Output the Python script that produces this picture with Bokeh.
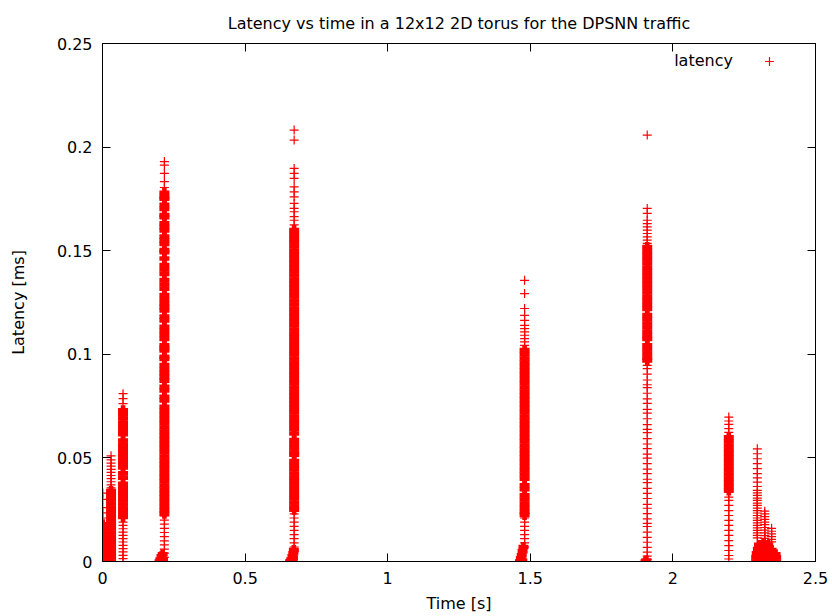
from bokeh.plotting import figure
from bokeh.models import (Range1d, LinearAxis, FixedTicker, NumeralTickFormatter,
                          CustomJSTickFormatter, Legend, LegendItem, Label)
from bokeh.embed import file_html
from bokeh.resources import INLINE

# ---- data: burst times (ms) and latencies (microseconds) ----
c1_t = 1
c1_dense = [0, 2, 4, 6, 8, 10, 12, 14, 16, 18]
c1_sparse = [21, 23.5, 26, 30, 33]

c2_t = 30
c2_dense = [0, 2, 4, 6, 8, 10, 12, 14, 16, 18, 20, 22, 24, 26, 28, 30, 32, 34]
c2_sparse = [35.5, 37, 38.5, 40, 41.5, 43, 44.5, 46, 47.5, 49, 51]

c3_t = 72
c3_dense = [73, 71, 69, 67, 65, 63, 61.4, 58.4, 56.4, 54.4, 52.4, 50.4, 48.4, 46.4,
            45.4, 42.6, 40.5, 37.5, 35.5, 33.5, 31.5, 29.5, 27.5, 25.5, 23.5, 21.5]
c3_sparse = [81, 78.6, 76.2, 19, 17.4, 15.8, 14.2, 12.6, 11, 9.4, 7.8, 6.2, 4.6, 3, 1.4, 0]

c4_t = 217
c4_dense = [178, 176, 175.1, 172.1, 170.2, 167.2, 166.2, 163.2, 161.5, 159.8, 156.8, 155,
            153.3, 150.3, 149.3, 146.2, 143.1, 141, 138.8, 135.8, 133.7, 131.6, 128.6,
            126.6, 124.6, 122.9, 121.2, 118.2, 116.3, 113.3, 111.3, 109.3, 107.4, 104.4,
            103.1, 101.8, 98.8, 97.8, 94.8, 92.8, 90.9, 89.1, 87.3, 84.3, 82.5, 79.5, 77.7,
            74.7, 72.7, 70.7, 68.7, 66.7, 64.7, 62.7, 60.7, 58.7, 56.7, 54.7, 52.7, 50.7,
            48.7, 46.7, 44.7, 42.7, 40.7, 38.7, 36.7, 34.7, 32.7, 30.7, 28.7, 26.7, 24.7, 23]
c4_sparse = [193, 191.3, 187.3, 183.3, 180.5, 22, 20, 18, 16, 14, 12, 10, 8, 6, 4, 2]
c4_foot_t = [203, 207, 211, 200, 206, 212, 209]
c4_foot_lat = [1, 2.5, 3.5, 0, 0.5, 1, 0]

c5_t = 672
c5_dense = [160, 158, 156, 154, 152, 150, 148, 146, 144, 142, 140, 138, 136, 134, 132, 130,
            128, 126, 124, 122, 120, 118, 116, 114, 112, 110, 108, 106, 104, 102, 100, 98,
            96, 94, 92, 90, 88, 86, 84, 82, 80, 78, 76, 74, 72, 70, 68, 66, 64, 61.8, 58.6,
            56.6, 54.6, 52.6, 51.5, 48.5, 46.5, 44.5, 42.5, 40.5, 38.5, 36.5, 34.5, 32.5,
            30.5, 28.5, 26.5, 25]
c5_sparse = [208.2, 203.4, 189.7, 187.3, 184.9, 180.8, 178.4, 176, 172.8, 170.4, 168.8,
             166.4, 164.7, 162.5, 23, 21, 19, 17, 15, 13, 11, 9, 7]
c5_foot_t = [658, 662, 666, 669, 660, 664, 668, 671]
c5_foot_lat = [0, 1, 2.5, 4, 0, 0.5, 1.5, 5.5]

c6_t = 1480
c6_dense = [102, 100, 98, 96, 94, 92, 90, 88, 86, 84, 82, 80, 78, 76, 74, 72, 70, 68, 66,
            64, 62, 60, 58, 56, 54, 52, 50, 48, 46, 44, 42, 40, 36.8, 34.9, 31.9, 29.9,
            27.9, 25.9, 23.9, 22.5]
c6_sparse = [135.7, 129.3, 122.1, 118.8, 116.4, 114, 112.4, 110.8, 109.2, 107.6, 106,
             104.3, 21, 19, 17, 15, 13, 11, 9, 7]
c6_foot_t = [1464, 1467, 1470, 1473, 1476, 1466, 1472]
c6_foot_lat = [0, 1.5, 3, 5, 7, 0, 0.5]

c7_t = 1910
c7_dense = [151.8, 149.8, 147.8, 145.8, 143.8, 141.8, 139.8, 137.8, 135.8, 133.8, 131.8,
            129.8, 127.8, 125.8, 123.8, 121.9, 118.9, 116.9, 114.9, 112.9, 110.9, 108.9,
            107.4, 104.4, 102.4, 100.4, 98.4, 97]
c7_sparse = [205.8, 170.4, 168, 164.7, 163.1, 161.5, 159.9, 158.3, 156.7, 155.1, 153.5,
             94.7, 93.1, 90.4, 87.6, 85.3, 83.9, 81.2, 78.5, 76.3, 73.4, 71.6, 68.9, 66.1,
             63.8, 62.2, 59.3, 56.7, 54.5, 51.8, 49.9, 47.2, 44.6, 42.4, 39.7, 38.1, 35.3,
             32.9, 30.4, 27.6, 25.7, 23.1, 20.6, 18.4, 16.9, 14.2, 11.6, 9.3, 6.8, 4.5,
             2.6, 1]
c7_foot_t = [1904, 1907]
c7_foot_lat = [0, 0.5]

c8_t = 2196
c8_dense = [60, 58, 56, 54, 52, 50, 48, 46, 44, 42, 40, 38, 36, 34.3]
c8_sparse = [69.7, 67.8, 66.2, 64.1, 62.3, 33.5, 31.1, 29.5, 27.1, 24.6, 22.2, 19.8, 17.4,
             15, 12.6, 10.1, 7.7, 5.3, 2.9, 1.2]

c9_t = 2296
c9_sparse = [54.4, 52, 49.6, 47.2, 44.8, 42.4, 40.4, 38.3, 36.2, 34.3, 33.1, 31.9, 30.6,
             29.5, 28.2, 27.1, 25.8, 24.6, 23.4, 22.2, 21, 19.8, 18.6, 17.4, 16.2, 15,
             13.8, 12.6, 11.4]

c10_t = 2322
c10_sparse = [24.3, 23, 21.7, 20.3, 19, 17.8, 16.4, 15.1, 13.8, 12.5, 11.2, 10]

c11_t = 2346
c11_sparse = [16, 14.6, 13.3, 12, 10.7, 9.5]

blob_t = [2292, 2310, 2328, 2346, 2362, 2292, 2310, 2328, 2346, 2362, 2294, 2312, 2330,
          2348, 2360, 2298, 2314, 2330, 2346, 2302, 2318, 2334]
blob_lat = [0, 0, 0, 0, 0, 2, 2, 2, 2, 2, 4, 4, 4, 4, 3.5, 6, 6, 6, 5.5, 8, 8.5, 8]

x_ticks = [0, 0.5, 1, 1.5, 2, 2.5]
y_ticks = [0, 0.05, 0.1, 0.15, 0.2, 0.25]
title_text = "Latency vs time in a 12x12 2D torus for the DPSNN traffic"

# ---- assemble (ms -> s, us -> ms) ----
dense_x, dense_y, sparse_x, sparse_y = [], [], [], []


def add(t_ms, lats, xs, ys):
    for v in lats:
        xs.append(t_ms / 1000.0)
        ys.append(v / 1000.0)


for t, d, s in [(c1_t, c1_dense, c1_sparse), (c2_t, c2_dense, c2_sparse),
                (c3_t, c3_dense, c3_sparse), (c4_t, c4_dense, c4_sparse),
                (c5_t, c5_dense, c5_sparse), (c6_t, c6_dense, c6_sparse),
                (c7_t, c7_dense, c7_sparse), (c8_t, c8_dense, c8_sparse),
                (c9_t, [], c9_sparse), (c10_t, [], c10_sparse), (c11_t, [], c11_sparse)]:
    add(t, d, dense_x, dense_y)
    add(t, s, sparse_x, sparse_y)

for ft, fl in [(c4_foot_t, c4_foot_lat), (c5_foot_t, c5_foot_lat), (c6_foot_t, c6_foot_lat),
               (c7_foot_t, c7_foot_lat), (blob_t, blob_lat)]:
    for a, b in zip(ft, fl):
        dense_x.append(a / 1000.0)
        dense_y.append(b / 1000.0)

FONT = "DejaVu Sans"
RED = "#ff0000"

p = figure(width=832, height=616, output_backend="svg", toolbar_location=None,
           x_range=Range1d(0, 2.5), y_range=Range1d(0, 0.25),
           x_axis_type=None, y_axis_type=None,
           min_border_left=102, min_border_right=17, min_border_top=43,
           min_border_bottom=55, title=title_text)
p.grid.visible = False
p.outline_line_color = "black"
p.background_fill_color = "white"
p.border_fill_color = "white"

p.title.align = "center"
p.title.text_font = FONT
p.title.text_font_size = "16px"
p.title.text_font_style = "normal"
p.title.text_color = "black"
p.title.standoff = 22


def make_axis(ticks, label=None, show_labels=True):
    if show_labels:
        fmt = NumeralTickFormatter(format="0.[00]")
    else:
        fmt = CustomJSTickFormatter(code="return '';")
    ax = LinearAxis(ticker=FixedTicker(ticks=ticks), formatter=fmt)
    ax.axis_line_color = "black"
    ax.major_tick_line_color = "black"
    ax.major_tick_in = 8
    ax.major_tick_out = 0
    ax.minor_tick_line_color = None
    ax.major_label_text_font = FONT
    ax.major_label_text_color = "black"
    ax.major_label_text_font_size = "16px" if show_labels else "1px"
    ax.major_label_standoff = 10 if show_labels else 0
    if label:
        ax.axis_label = label
        ax.axis_label_text_font = FONT
        ax.axis_label_text_font_size = "16px"
        ax.axis_label_text_font_style = "normal"
        ax.axis_label_text_color = "black"
    return ax


xb = make_axis(x_ticks, "Time [s]")
xb.axis_label_standoff = 7
yl = make_axis(y_ticks, "Latency [ms]")
yl.axis_label_standoff = 26
p.add_layout(xb, "below")
p.add_layout(yl, "left")
p.add_layout(make_axis(x_ticks, show_labels=False), "above")
p.add_layout(make_axis(y_ticks, show_labels=False), "right")

r_dense = p.scatter(dense_x, dense_y, marker="cross", size=10, line_color=RED,
                    line_width=4.6)
r_sparse = p.scatter(sparse_x, sparse_y, marker="cross", size=9, line_color=RED,
                     line_width=1.2)

legend = Legend(items=[LegendItem(label=" ", renderers=[r_sparse])],
                location=(656, 489), padding=0, margin=0, spacing=0,
                glyph_width=22, glyph_height=22, label_standoff=0,
                border_line_color=None, background_fill_alpha=0,
                label_text_font_size="16px")
p.add_layout(legend)
p.add_layout(Label(x=2.2104, y=0.2418, text="latency", text_align="right",
                   text_baseline="alphabetic", text_font=FONT, text_font_size="16px",
                   text_color="black"))

open("out.html", "w").write(file_html(p, INLINE))
